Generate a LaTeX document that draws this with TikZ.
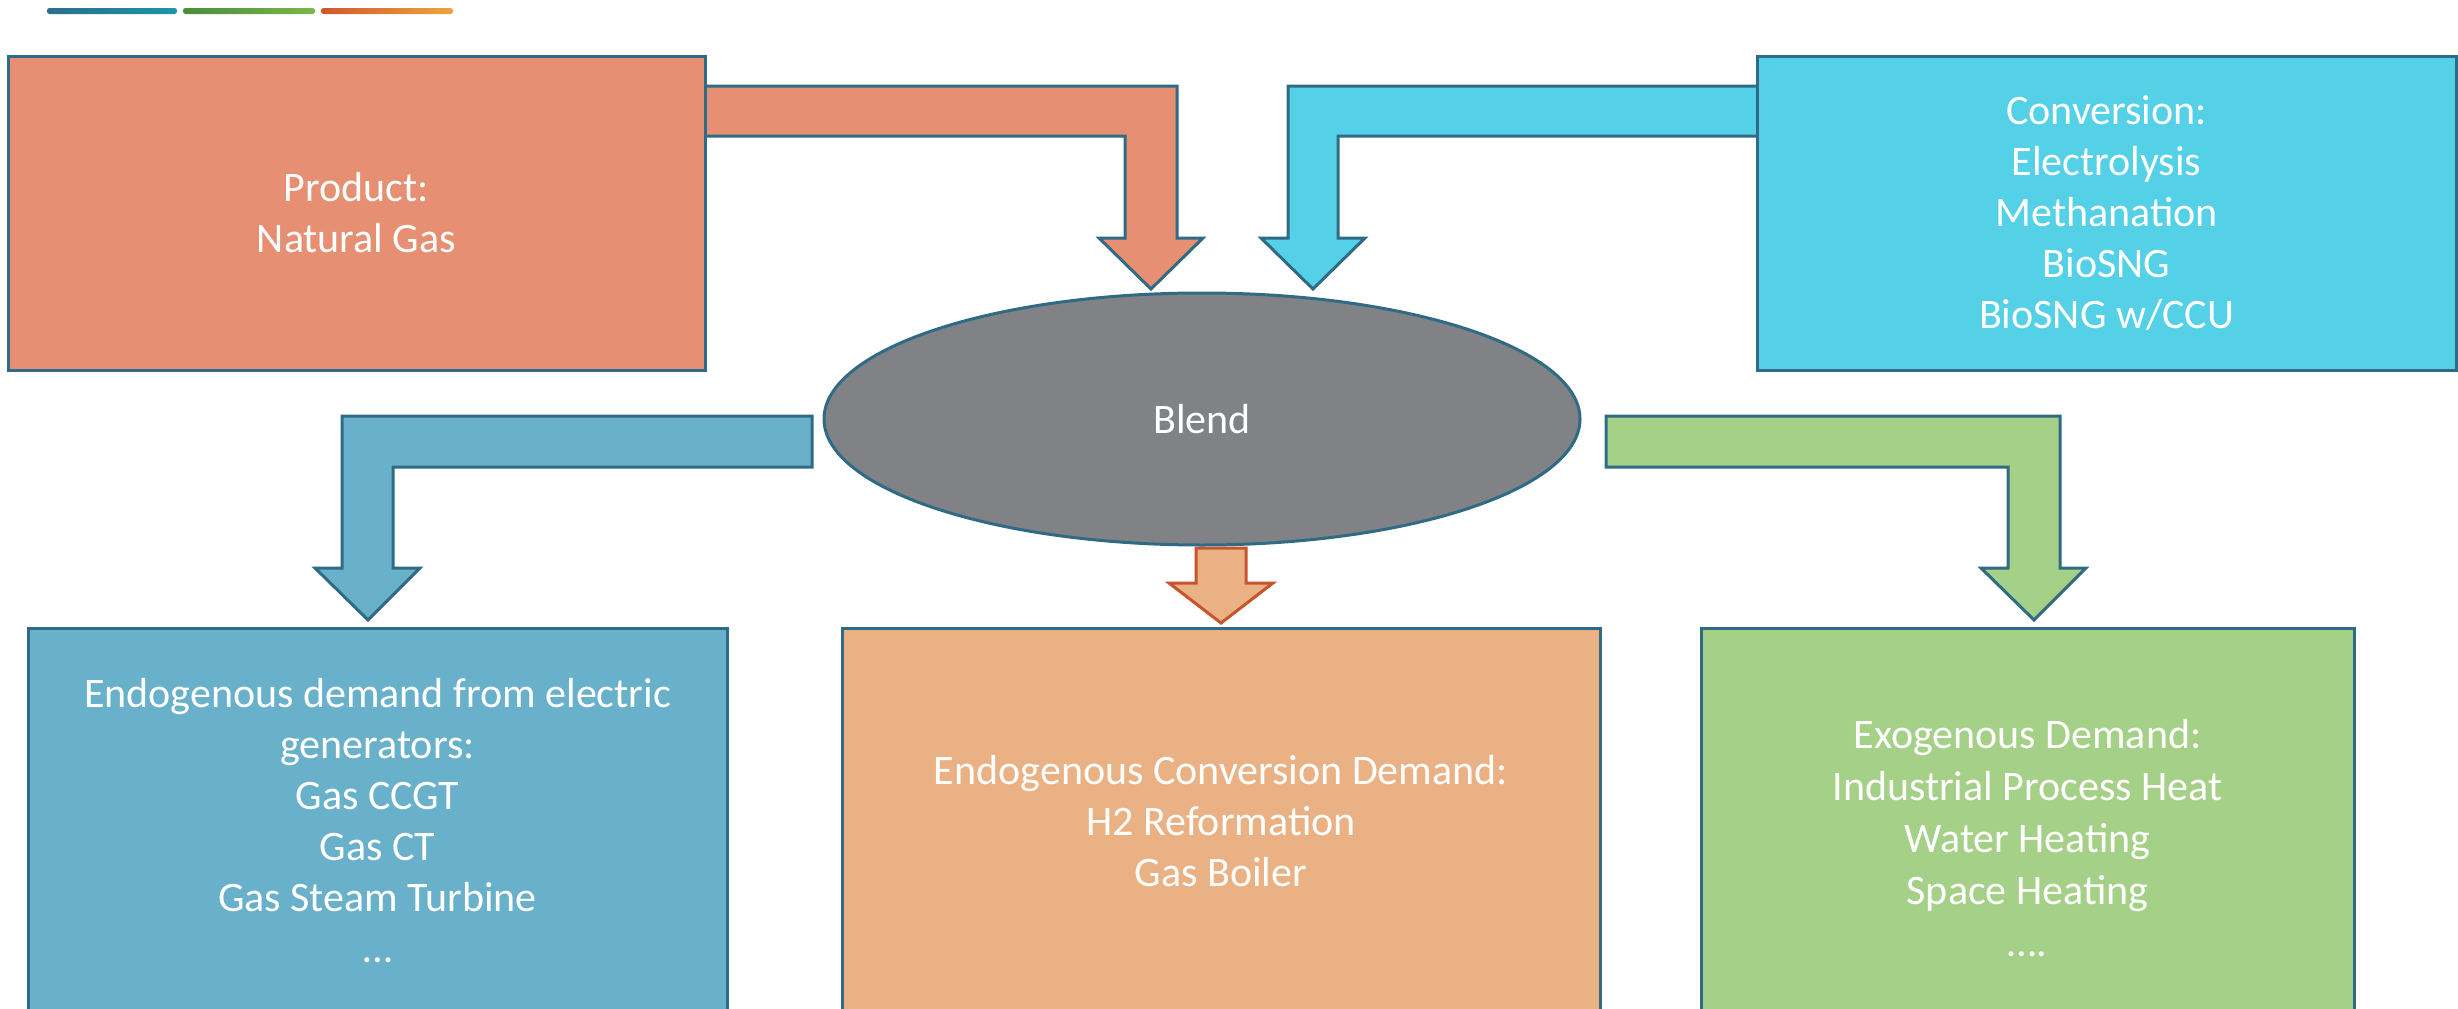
\documentclass[tikz,border=0pt]{standalone}
\usepackage{fontspec}
\setmainfont{Carlito}
\usetikzlibrary{shapes.geometric}
\definecolor{bord}{HTML}{2F6B84}
\definecolor{prodc}{HTML}{E68F72}
\definecolor{convc}{HTML}{55D1E7}
\definecolor{blendc}{HTML}{808285}
\definecolor{elecc}{HTML}{69B1CB}
\definecolor{midc}{HTML}{EAB284}
\definecolor{midstroke}{HTML}{C9532A}
\definecolor{exoc}{HTML}{A5D087}
\definecolor{laa}{HTML}{2C6E8C}
\definecolor{lab}{HTML}{1A95AA}
\definecolor{lba}{HTML}{4A8C3A}
\definecolor{lbb}{HTML}{7BB84A}
\definecolor{lca}{HTML}{D0582A}
\definecolor{lcb}{HTML}{ECA63E}
\begin{document}
\begin{tikzpicture}[x=1pt,y=-1pt,
  box/.style={draw=bord, line width=3pt, rectangle, inner sep=0pt, text=white,
    align=center, font=\fontsize{42}{51}\selectfont},
  boxtext/.style={inner sep=0pt, text=white, align=center, font=\fontsize{42}{52}\selectfont},
  blockarrow/.style={draw=bord, line width=3pt, line join=miter}]
\useasboundingbox (0,0) rectangle (2458,1009);
\fill[white] (0,0) rectangle (2458,1009);

% decorative gradient lines
\shade[left color=laa, right color=lab, rounded corners=2.5pt] (47,8) rectangle (177,14);
\shade[left color=lba, right color=lbb, rounded corners=2.5pt] (183,8) rectangle (315,14);
\shade[left color=lca, right color=lcb, rounded corners=2.5pt] (321,8) rectangle (453,14);

% block arrows
\draw[blockarrow, fill=prodc] (700,86) -- (1177,86) -- (1177,238) -- (1203,238) -- (1151,289)
  -- (1099,238) -- (1125,238) -- (1125,136) -- (700,136) -- cycle;
\draw[blockarrow, fill=convc] (1762,86) -- (1288,86) -- (1288,238) -- (1261,238) -- (1313,289)
  -- (1365,238) -- (1338,238) -- (1338,136) -- (1762,136) -- cycle;
\draw[blockarrow, fill=elecc] (812,416) -- (342,416) -- (342,568) -- (315,568) -- (368,620)
  -- (420,568) -- (393,568) -- (393,467) -- (812,467) -- cycle;
\draw[blockarrow, fill=exoc] (1606,416) -- (2060,416) -- (2060,568) -- (2086,568) -- (2034,620)
  -- (1981,568) -- (2008,568) -- (2008,467) -- (1606,467) -- cycle;
\draw[draw=midstroke, line width=3pt, line join=miter, fill=midc] (1196,548) -- (1246,548) -- (1246,583)
  -- (1273,583) -- (1221,623) -- (1169,583) -- (1196,583) -- cycle;

% boxes
\node[box, fill=prodc, minimum width=697pt, minimum height=314pt] (prod) at (356.5,213)
  {Product:\\Natural Gas};
\node[box, fill=convc, minimum width=699pt, minimum height=314pt] (conv) at (2106.5,213)
  {Conversion:\\Electrolysis\\Methanation\\BioSNG\\BioSNG w/CCU};
\node[box, draw=bord, fill=blendc, ellipse, minimum width=756pt, minimum height=252pt] (blend) at (1202,419)
  {Blend};
\node[box, fill=elecc, minimum width=699pt, minimum height=386pt] (elec) at (377.5,821)
  {Endogenous demand from electric\\generators:\\Gas CCGT\\Gas CT\\Gas Steam Turbine\\…};
\node[box, fill=midc, minimum width=758pt, minimum height=386pt] (endo) at (1221,821)
  {Endogenous Conversion Demand:\\H2 Reformation\\Gas Boiler};
\node[box, fill=exoc, minimum width=653pt, minimum height=386pt] (exo) at (2027.5,821) {};
\node[boxtext] (exotext) at (2027.5,838)
  {Exogenous Demand:\\Industrial Process Heat\\Water Heating\\Space Heating\\….};
\end{tikzpicture}
\end{document}
